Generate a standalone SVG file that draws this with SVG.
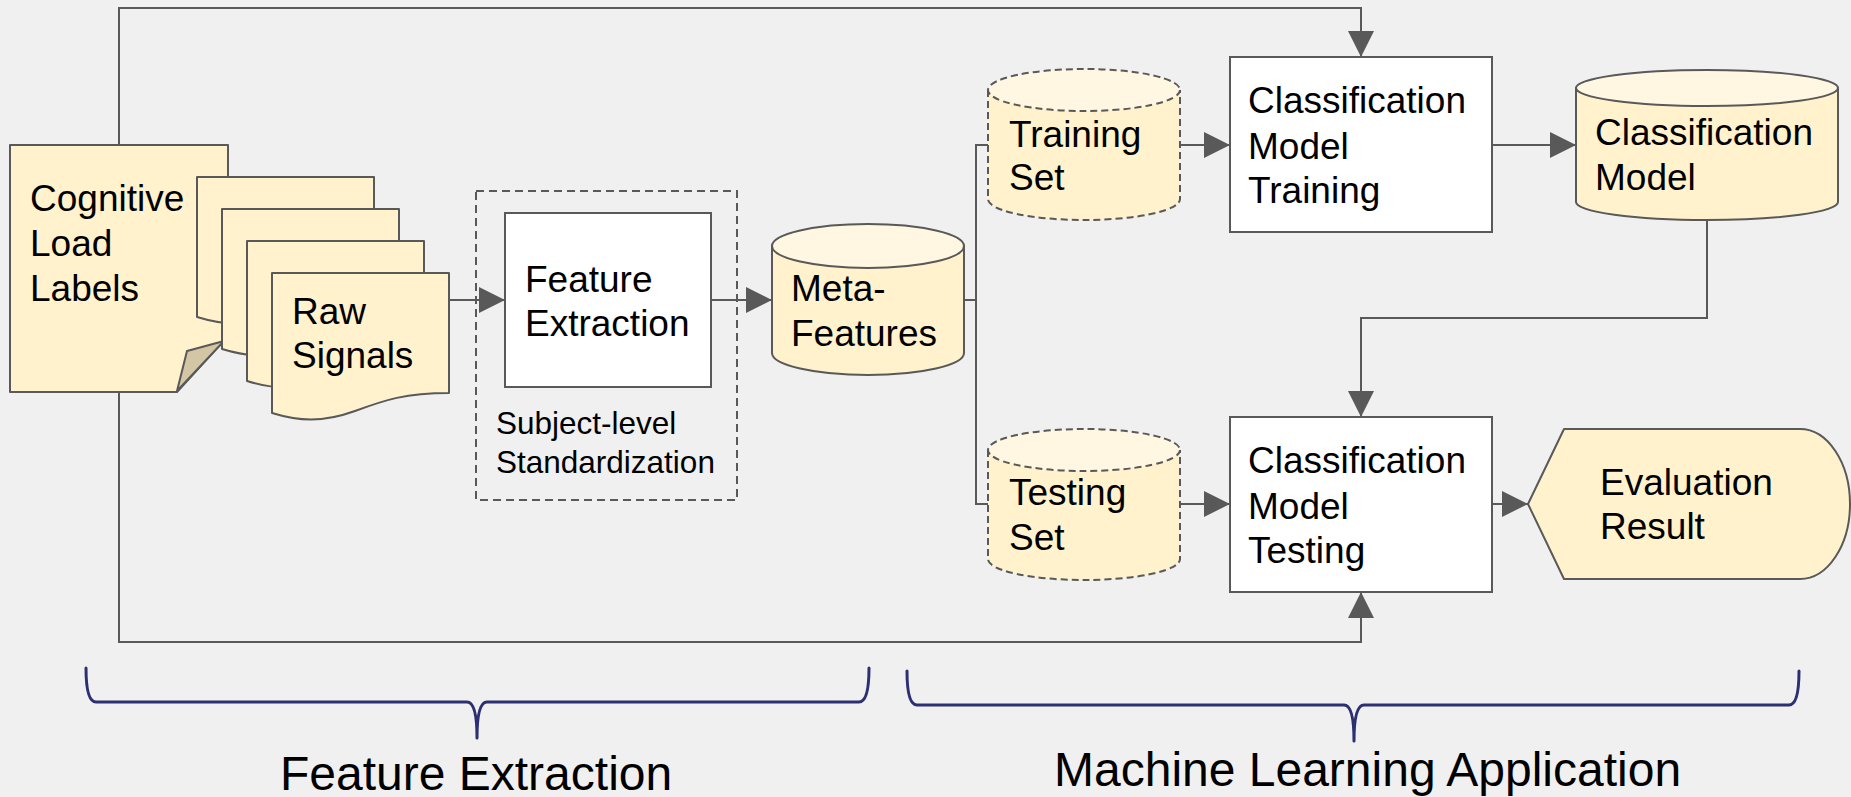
<svg xmlns="http://www.w3.org/2000/svg" xmlns:xlink="http://www.w3.org/1999/xlink" width="1851" height="797" viewBox="0 0 1851 797">
  <style>
    .bg { fill: #f0f0f0; }
    .doc { fill: #fff2cc; stroke: #595959; stroke-width: 2; stroke-linejoin: round; }
    .fold { fill: #d2c6a5; stroke: #595959; stroke-width: 2; stroke-linejoin: round; }
    .box { fill: #ffffff; stroke: #595959; stroke-width: 2; }
    .cyl { fill: #fff2cc; stroke: #595959; stroke-width: 2; }
    .cyltop { fill: #fff7e1; stroke: #595959; stroke-width: 2; }
    .dash { stroke-dasharray: 7 4; }
    .group { fill: none; stroke: #595959; stroke-width: 2; stroke-dasharray: 8 5; }
    .conn { fill: none; stroke: #595959; stroke-width: 2; }
    .arrow { marker-end: url(#ah); }
    .brace { fill: none; stroke: #2d2f73; stroke-width: 3; stroke-linecap: round; stroke-linejoin: round; }
    .t { font-family: "Liberation Sans", Arial, sans-serif; font-size: 37px; fill: #000000; }
    .ts { font-family: "Liberation Sans", Arial, sans-serif; font-size: 31.5px; fill: #000000; }
    .tl { font-family: "Liberation Sans", Arial, sans-serif; font-size: 48px; fill: #000000; }
  </style>
  <defs>
    <marker id="ah" markerUnits="userSpaceOnUse" markerWidth="26" markerHeight="26" viewBox="0 0 26 26" refX="26" refY="13" orient="auto">
      <path d="M0,0 L26,13 L0,26 Z" fill="#595959"/>
    </marker>
    <!-- one signal sheet with a wavy lower edge, drawn at the front position -->
    <path id="sheet" d="M272,273 H449 V393 C405,393 385,400 355,411 C322,423 298,421 272,413 Z"/>
  </defs>

  <rect class="bg" x="0" y="0" width="1851" height="797"/>

  <!-- connectors -->
  <g id="connectors">
    <path class="conn arrow" d="M119,145 V8 H1361 V57"/>
    <path class="conn arrow" d="M119,392 V642 H1361 V592"/>
    <path class="conn arrow" d="M449,300 H505"/>
    <path class="conn arrow" d="M711,300 H772"/>
    <path class="conn" d="M964,300 H976 M988,145 H976 V504 H988"/>
    <path class="conn arrow" d="M1180,145 H1230"/>
    <path class="conn arrow" d="M1180,504 H1230"/>
    <path class="conn arrow" d="M1492,145 H1576"/>
    <path class="conn arrow" d="M1492,504 H1528"/>
    <path class="conn arrow" d="M1707,220 V318 H1361 V417"/>
  </g>

  <!-- labels document with folded corner -->
  <g id="cognitive-load-labels">
    <path class="doc" d="M10,145 H228 V336 L177,392 H10 Z"/>
    <path class="fold" d="M177,391 L187,351 L224,341 Z"/>
    <text class="t" x="30" y="211">Cognitive</text>
    <text class="t" x="30" y="256">Load</text>
    <text class="t" x="30" y="301">Labels</text>
  </g>

  <!-- stack of raw signal sheets -->
  <g id="raw-signals">
    <use xlink:href="#sheet" class="doc" transform="translate(-75,-96)"/>
    <use xlink:href="#sheet" class="doc" transform="translate(-50,-64)"/>
    <use xlink:href="#sheet" class="doc" transform="translate(-25,-32)"/>
    <use xlink:href="#sheet" class="doc"/>
    <text class="t" x="292" y="324">Raw</text>
    <text class="t" x="292" y="368">Signals</text>
  </g>

  <!-- standardization group -->
  <g id="standardization">
    <rect class="group" x="476" y="191" width="261" height="309"/>
    <text class="ts" x="496" y="434">Subject-level</text>
    <text class="ts" x="496" y="473">Standardization</text>
  </g>

  <g id="feature-extraction">
    <rect class="box" x="505" y="213" width="206" height="174"/>
    <text class="t" x="525" y="292">Feature</text>
    <text class="t" x="525" y="336">Extraction</text>
  </g>

  <g id="meta-features">
    <path class="cyl" d="M772,246 V353 A96,22 0 0 0 964,353 V246 Z"/>
    <ellipse class="cyltop" cx="868" cy="246" rx="96" ry="22"/>
    <text class="t" x="791" y="301">Meta-</text>
    <text class="t" x="791" y="346">Features</text>
  </g>

  <g id="training-set">
    <path class="cyl" style="stroke:none" d="M988,90 V199 A96,21 0 0 0 1180,199 V90 Z"/>
    <path class="conn dash" d="M988,90 V199 A96,21 0 0 0 1180,199 V90"/>
    <ellipse class="cyltop dash" cx="1084" cy="90" rx="96" ry="21"/>
    <text class="t" x="1009" y="147">Training</text>
    <text class="t" x="1009" y="190">Set</text>
  </g>

  <g id="testing-set">
    <path class="cyl" style="stroke:none" d="M988,450 V559 A96,21 0 0 0 1180,559 V450 Z"/>
    <path class="conn dash" d="M988,450 V559 A96,21 0 0 0 1180,559 V450"/>
    <ellipse class="cyltop dash" cx="1084" cy="450" rx="96" ry="21"/>
    <text class="t" x="1009" y="505">Testing</text>
    <text class="t" x="1009" y="550">Set</text>
  </g>

  <g id="model-training">
    <rect class="box" x="1230" y="57" width="262" height="175"/>
    <text class="t" x="1248" y="113">Classification</text>
    <text class="t" x="1248" y="159">Model</text>
    <text class="t" x="1248" y="203">Training</text>
  </g>

  <g id="classification-model">
    <path class="cyl" d="M1576,88 V202 A131,18 0 0 0 1838,202 V88 Z"/>
    <ellipse class="cyltop" cx="1707" cy="88" rx="131" ry="18"/>
    <text class="t" x="1595" y="145">Classification</text>
    <text class="t" x="1595" y="190">Model</text>
  </g>

  <g id="model-testing">
    <rect class="box" x="1230" y="417" width="262" height="175"/>
    <text class="t" x="1248" y="473">Classification</text>
    <text class="t" x="1248" y="519">Model</text>
    <text class="t" x="1248" y="563">Testing</text>
  </g>

  <g id="evaluation-result">
    <path class="doc" d="M1528,504 L1564,429 H1800 A50,75 0 0 1 1800,579 H1564 Z"/>
    <text class="t" x="1600" y="495">Evaluation</text>
    <text class="t" x="1600" y="539">Result</text>
  </g>

  <!-- phase braces -->
  <g id="phase-feature-extraction">
    <path class="brace" d="M86,668 Q86,702 96,702 H467 Q477,702 477,738 Q477,702 487,702 H859 Q869,702 869,668"/>
    <text class="tl" x="280" y="790">Feature Extraction</text>
  </g>
  <g id="phase-machine-learning">
    <path class="brace" d="M907,671 Q907,705 917,705 H1344 Q1354,705 1354,741 Q1354,705 1364,705 H1789 Q1799,705 1799,671"/>
    <text class="tl" x="1054" y="786">Machine Learning Application</text>
  </g>
</svg>
